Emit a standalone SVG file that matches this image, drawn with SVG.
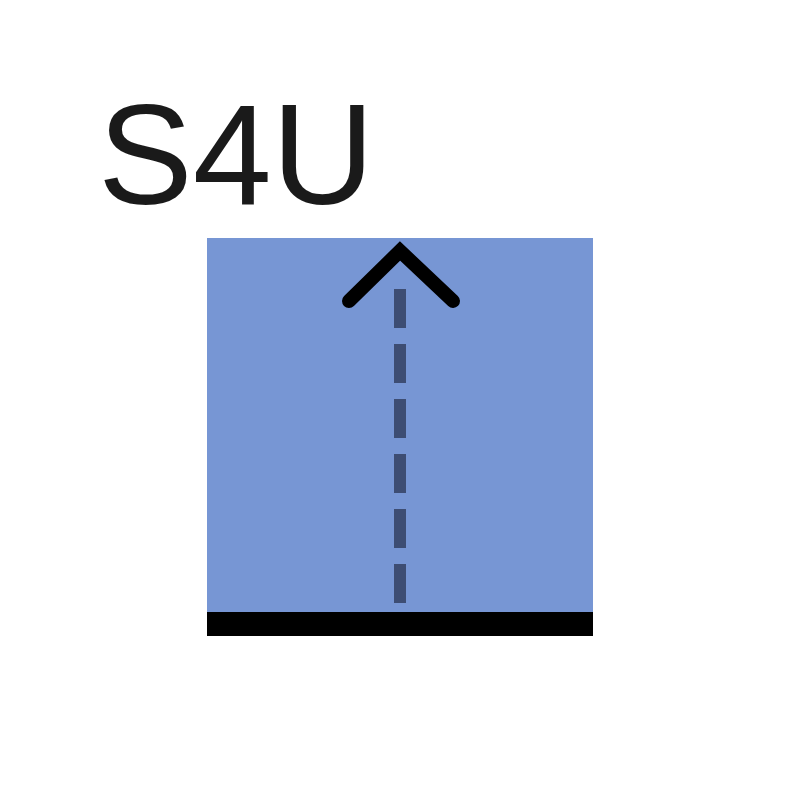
<svg xmlns="http://www.w3.org/2000/svg" width="800" height="800" viewBox="0 0 800 800">
  <style>
    .label { font-family: "Liberation Sans", Arial, sans-serif; font-size: 142px; fill: #1a1a1a; }
    .box { fill: #7796d4; }
    .base { fill: #000000; }
    .dash { stroke: #3d4d73; stroke-width: 12; stroke-dasharray: 39 16; fill: none; }
    .head { stroke: #000000; stroke-width: 14; stroke-linecap: round; stroke-linejoin: miter; fill: none; }
  </style>
  <rect width="800" height="800" fill="#ffffff"/>
  <g id="label">
    <text class="label" x="98" y="204">S4U</text>
  </g>
  <g id="node-s4u">
    <rect class="box" x="207" y="238" width="386" height="376"/>
    <rect class="base" x="207" y="612" width="386" height="24"/>
  </g>
  <g id="connectors">
    <line class="dash" x1="400" y1="603" x2="400" y2="284"/>
    <polyline class="head" points="349,301 400,251 453,301"/>
  </g>
</svg>
